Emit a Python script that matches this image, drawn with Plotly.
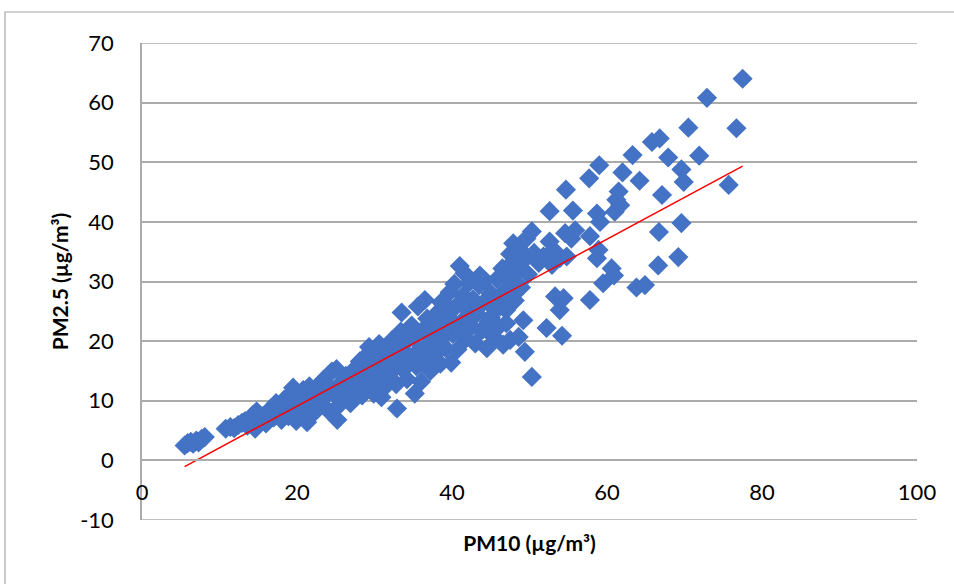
import numpy as np
import plotly.graph_objects as go

# PM10 / PM2.5 pairs (µg/m³)
pm10 = [
    5.5, 5.9, 6.3, 6.6, 7.0, 7.3, 7.7, 8.1,
    10.8, 11.4, 11.9, 12.4, 12.9, 13.3, 13.6, 14.0, 14.3, 14.6, 14.8, 15.2,
    15.6, 16.0, 16.3, 16.7, 17.0, 17.3, 17.7, 18.0, 18.3, 18.6, 18.9, 19.2,
    19.5, 19.6, 19.9, 20.2, 20.4, 20.8, 21.1, 21.3, 21.6, 21.9, 22.2, 22.5,
    22.8, 23.1, 23.4, 23.7, 24.0, 24.2, 24.5, 24.8, 25.1, 25.2, 25.4, 25.7,
    26.0, 26.3, 26.6, 26.9, 27.2, 27.5, 27.8, 28.1, 28.4, 28.6, 28.9, 29.1,
    29.3, 29.6, 29.9, 30.1, 30.4, 30.6, 30.9, 31.2, 31.4, 31.7, 32.0, 32.3,
    32.5, 32.8, 32.9, 33.1, 33.4, 33.5, 33.7, 34.0, 34.2, 34.5, 34.8, 35.0,
    35.2, 35.4, 35.6, 35.8, 36.0, 36.2, 36.5, 36.6, 36.8, 37.0, 37.2, 37.4,
    37.7, 38.0, 38.2, 38.5, 38.8, 39.0, 39.2, 39.5, 39.7, 39.9, 40.1, 40.3,
    40.5, 40.7, 41.0, 41.2, 41.4, 41.6, 41.8, 42.0, 42.2, 42.5, 42.7, 43.0,
    43.2, 43.5, 43.8, 44.0, 44.2, 44.5, 44.7, 45.0, 45.3, 45.5, 45.8, 46.0,
    46.2, 46.5, 46.6, 46.8, 47.0, 47.3, 47.5, 47.5, 47.8, 47.9, 48.1, 48.4,
    48.6, 48.8, 48.9, 49.2, 49.3, 49.4, 49.6, 49.8, 50.3, 50.3, 50.6, 51.2,
    51.8, 52.2, 52.6, 52.6, 52.9, 53.1, 53.3, 53.9, 53.9, 54.2, 54.4, 54.6,
    54.7, 54.8, 55.4, 55.6, 55.9, 57.7, 57.8, 57.8, 58.7, 58.7, 58.9, 59.0,
    59.1, 59.5, 60.6, 60.9, 61.0, 61.2, 61.5, 61.7, 62.0, 63.3, 63.8, 64.2,
    64.9, 65.8, 66.6, 66.7, 66.8, 67.1, 67.9, 69.2, 69.6, 69.6, 69.9, 70.5,
    71.9, 72.9, 75.7, 76.7, 77.5,
    38.0, 39.0, 40.0, 41.0, 42.0, 43.0, 43.6, 44.0, 45.0, 45.2, 46.0, 47.0,
    47.2, 48.0, 38.6, 34.0, 31.0, 27.0,
]
pm25 = [
    2.5, 2.9, 3.1, 2.8, 3.3, 3.0, 3.6, 3.9,
    5.3, 5.6, 5.4, 5.9, 6.3, 6.6, 5.8, 7.0, 7.6, 5.3, 8.2, 6.5,
    7.4, 6.2, 8.0, 8.8, 7.2, 9.6, 8.3, 6.8, 10.1, 8.9, 7.4, 11.2,
    12.2, 9.5, 6.6, 8.2, 10.6, 11.8, 9.0, 6.4, 12.4, 10.2, 8.0, 11.2,
    12.6, 9.4, 13.5, 10.8, 8.4, 12.2, 14.9, 11.0, 15.3, 6.8, 9.2, 13.0,
    10.4, 14.2, 12.0, 9.6, 15.0, 11.5, 13.6, 16.6, 10.9, 14.6, 17.5, 12.6,
    19.0, 15.6, 11.2, 17.4, 13.8, 19.5, 10.6, 16.2, 12.4, 18.4, 14.6, 20.2,
    16.8, 12.8, 8.7, 18.6, 21.6, 24.8, 15.2, 19.8, 13.6, 17.4, 22.6, 20.6,
    11.2, 15.8, 25.8, 18.6, 13.2, 21.8, 26.9, 16.8, 23.8, 19.6, 15.0, 22.0,
    17.6, 24.6, 20.4, 16.2, 22.8, 26.4, 18.8, 24.0, 28.2, 16.4, 21.2, 29.6,
    25.8, 18.6, 32.6, 23.2, 27.6, 31.4, 20.4, 25.2, 29.8, 22.4, 27.0, 19.6,
    24.6, 29.4, 21.8, 26.4, 30.2, 18.8, 23.2, 28.0, 20.8, 25.4, 30.4, 22.4,
    25.8, 32.2, 19.4, 28.4, 23.0, 30.8, 34.6, 20.2, 33.2, 36.4, 26.8, 31.6,
    20.7, 35.3, 29.0, 23.5, 33.6, 18.2, 37.2, 31.2, 38.4, 14.0, 34.8, 33.1,
    34.2, 22.2, 36.7, 41.8, 32.8, 35.3, 27.5, 33.9, 25.2, 20.9, 27.2, 38.1,
    45.4, 34.2, 37.2, 41.9, 38.6, 47.3, 37.6, 26.9, 41.4, 33.9, 35.3, 49.5,
    40.0, 29.7, 32.2, 31.0, 41.7, 43.7, 45.1, 42.8, 48.3, 51.2, 29.0, 46.9,
    29.4, 53.4, 32.7, 38.3, 54.0, 44.5, 50.8, 34.1, 39.8, 48.8, 46.7, 55.8,
    51.1, 60.8, 46.2, 55.7, 64.0,
    19.0, 21.0, 23.4, 21.6, 23.4, 26.6, 31.0, 22.0, 24.0, 26.6, 27.2, 25.2,
    27.8, 29.8, 26.5, 16.0, 14.8, 12.4,
]

# linear trendline as shown on the chart: y = 0.70x - 4.9
trend_slope = 0.70
trend_intercept = -4.9

x_ticks = [0, 20, 40, 60, 80, 100]
y_ticks = [-10, 0, 10, 20, 30, 40, 50, 60, 70]
y_tick_text = ["-10", "0", "10", "20", "30", "40", "50", "60", "70"]

grid_grey = "#ABABAB"
font_family = "Lato, 'Open Sans', sans-serif"

trend_x = np.array([min(pm10), max(pm10)])
trend_y = trend_slope * trend_x + trend_intercept

fig = go.Figure()

fig.add_trace(go.Scatter(
    x=pm10, y=pm25, mode="markers",
    marker=dict(symbol="diamond", size=15.5, color="#4472C4", line=dict(width=0)),
    showlegend=False, hoverinfo="x+y",
))

fig.add_trace(go.Scatter(
    x=trend_x, y=trend_y, mode="lines",
    line=dict(color="#FF0000", width=1.5),
    showlegend=False, hoverinfo="skip",
))

# plotly drops the gridlines on the range edges, so draw those two by hand
edge_lines = [
    dict(type="line", xref="paper", yref="y", x0=0, x1=1, y0=v, y1=v,
         line=dict(color=grid_grey, width=1.5), layer="below")
    for v in (y_ticks[0], y_ticks[-1])
]
# chart frame, only its top and left edges are inside the picture
frame = dict(
    type="rect", xref="paper", yref="paper",
    x0=-0.1768, x1=1.08, y0=-0.2, y1=1.065,
    line=dict(color="#A6A6A6", width=1.2), layer="below",
)

fig.update_layout(
    width=954, height=584,
    margin=dict(l=142, r=37, t=43, b=64),
    paper_bgcolor="white", plot_bgcolor="white",
    font=dict(family=font_family, color="#000000"),
    xaxis=dict(
        range=[0, 100], tickvals=x_ticks, showgrid=False, zeroline=False,
        showline=True, linecolor=grid_grey, linewidth=1.5,
        anchor="free", position=0.125,
        tickfont=dict(size=22), ticks="", ticklabelstandoff=12,
        title=dict(text="<b>PM10 (µg/m³)</b>", font=dict(size=21), standoff=32),
    ),
    yaxis=dict(
        range=[-10, 70], tickvals=y_ticks, ticktext=y_tick_text,
        showgrid=True, gridcolor=grid_grey,
        gridwidth=1.5, zeroline=False, showline=True, linecolor=grid_grey,
        linewidth=1.5, tickfont=dict(size=22), ticks="", ticklabelstandoff=22,
        title=dict(text="<b>PM2.5 (µg/m³)</b>", font=dict(size=21), standoff=6),
    ),
    shapes=edge_lines + [frame],
)

fig.write_html(
    "out.html",
    config={"displayModeBar": False},
    post_script="document.body.style.margin='0';",
)
